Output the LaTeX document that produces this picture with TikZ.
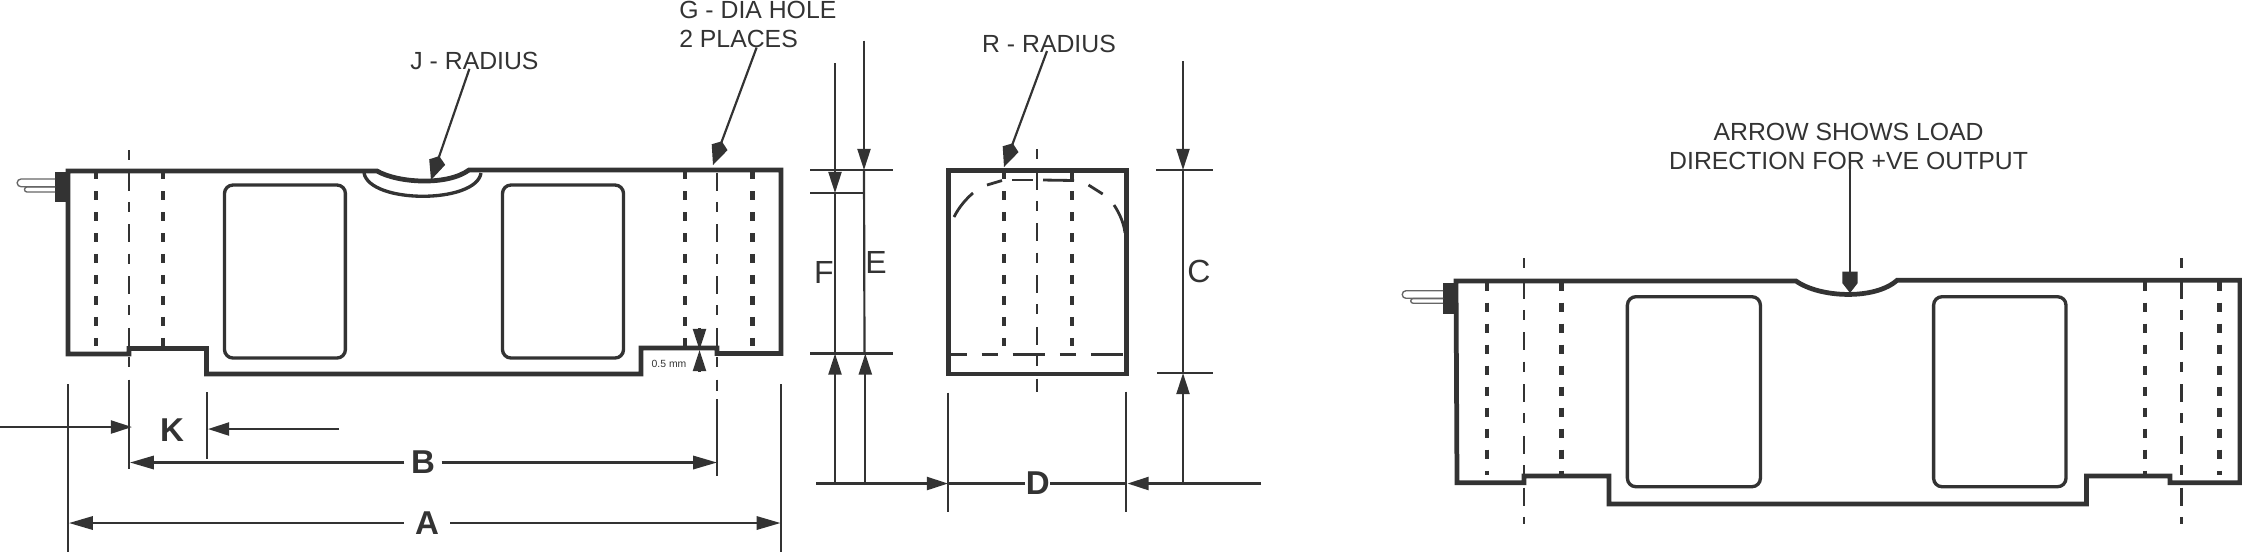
\documentclass[tikz,border=0pt]{standalone}
\usepackage{fontspec}
\setmainfont{Liberation Sans}
\usetikzlibrary{arrows.meta}
\definecolor{ink}{HTML}{333333}
\tikzset{
  body/.style={ink,line width=1.35pt},
  window/.style={ink,line width=0.95pt,rounded corners=2.4pt},
  hidden/.style={ink,line width=1.2pt,dash pattern=on 2.56pt off 3.41pt},
  centre/.style={ink,line width=0.62pt,dash pattern=on 2.85pt off 3.55pt on 5.12pt off 3.2pt},
  thinline/.style={ink,line width=0.62pt},
  wire/.style={ink!75,line width=0.38pt},
  dimarrow/.style={thinline,-{Triangle[length=6pt,width=3.7pt]}},
  bigarrow/.style={thinline,-{Triangle[length=6.8pt,width=3.8pt]}},
  leader/.style={thinline,-{Kite[length=7.2pt,width=4.8pt,inset=1.8pt]}},
  note/.style={ink,inner sep=0pt,font=\fontsize{7.05pt}{8.25pt}\selectfont},
  dimtext/.style={ink,inner sep=0pt,font=\fontsize{9.1pt}{10pt}\selectfont},
  boldtext/.style={ink,inner ysep=0pt,font=\fontsize{9.4pt}{10pt}\selectfont\bfseries}
}
\begin{document}
\begin{tikzpicture}[x=0.01cm,y=-0.01cm]
\useasboundingbox (0,0) rectangle (2242,553);
% front view
\draw[body] (68,171) -- (377,171) .. controls (398,183) and (447,186) .. (469,170)
  -- (781,170) -- (781,353.5) -- (717,353.5) -- (717,348) -- (641,348) -- (641,374)
  -- (206.6,374) -- (206.6,348.5) -- (129,348.5) -- (129,354) -- (68,354) -- cycle;
\draw[ink,line width=0.95pt] (364,173) .. controls (370,204) and (476,204) .. (481,173);
\draw[window] (224.5,185) rectangle (345.4,358);
\draw[window] (502.5,185) rectangle (623.5,358);
% connector and wires
\fill[ink] (55,172) rectangle (68,202);
\draw[wire] (55,179) -- (21,179) arc (270:90:3.85) -- (55,186.7);
\draw[wire] (55,187) -- (27,187) arc (270:90:2.5) -- (55,192);
% holes
\draw[hidden] (96,170) -- (96,346);
\draw[hidden] (163,170) -- (163,346);
\draw[hidden] (685,170) -- (685,346);
\draw[hidden] (752.5,170) -- (752.5,346);
\draw[centre] (129,150) -- (129,391);
\draw[centre] (717,150) -- (717,391);
% witness lines
\draw[thinline] (68.4,384) -- (68.4,552);
\draw[thinline] (781,384) -- (781,552);
\draw[thinline] (129,391) -- (129,469);
\draw[thinline] (207,392) -- (207,458.5);
\draw[thinline] (717,399) -- (717,476);
% K, B and A
\node[boldtext] (klabel) at (172,430) {K};
\draw[dimarrow] (0,427) -- (132,427);
\draw[dimarrow] (339,429) -- (208,429);
\node[boldtext,inner xsep=1.7pt] (blabel) at (423,462.5) {B};
\coordinate (bleft) at (130,462.5);
\coordinate (bright) at (717,462.5);
\draw[bigarrow] (blabel) -- (bleft);
\draw[bigarrow] (blabel) -- (bright);
\node[boldtext,inner xsep=3pt] (alabel) at (427,523) {A};
\coordinate (aleft) at (69,523);
\coordinate (aright) at (780.5,523);
\draw[bigarrow] (alabel) -- (aleft);
\draw[bigarrow] (alabel) -- (aright);
% 0.5 mm step
\draw[dimarrow] (699.5,328) -- (699.5,350);
\draw[dimarrow] (699.5,372) -- (699.5,350);
\node[ink,inner sep=0pt,font=\fontsize{2.96pt}{3.5pt}\selectfont] (steplabel) at (669,364) {0.5 mm};
% notes
\node[note,anchor=base] (jlabel) at (474.5,69.5) {J - RADIUS};
\coordinate (jtail) at (469.4,68.8);
\coordinate (jtip) at (431,180);
\draw[leader] (jtail) -- (jtip);
\node[note,anchor=north west,align=left] (glabel) at (678.6,0.5) {G - DIA HOLE\\2 PLACES};
\coordinate (gtail) at (756.6,47.6);
\coordinate (gtip) at (713,165);
\draw[leader] (gtail) -- (gtip);
\node[note,anchor=base] (rlabel) at (1049,52) {R - RADIUS};
\coordinate (rtail) at (1047,51);
\coordinate (rtip) at (1004,167);
\draw[leader] (rtail) -- (rtip);
% side view
\draw[body] (948.7,170.4) rectangle (1126.7,374);
\draw[hidden] (1004,170) -- (1004,346);
\draw[hidden] (1071.7,170) -- (1071.7,346);
\draw[centre] (1037,149) -- (1037,391.5);
\draw[ink,line width=0.8pt,dash pattern=on 4.55pt off 4.27pt on 4.55pt off 4.27pt on 9.1pt off 4.27pt on 4.55pt off 4.27pt on 9.1pt off 4.27pt]
  (950.7,354.5) -- (1123,354.5);
\draw[ink,line width=0.8pt] (954,217) .. controls (959,207) and (966,199) .. (973,193);
\draw[ink,line width=0.8pt] (987,185) -- (1002,180.5);
\draw[ink,line width=0.8pt] (1012,180) -- (1033,180);
\draw[ink,line width=0.8pt] (1043,180) -- (1074,180.5);
\draw[ink,line width=0.8pt] (1088.5,185) -- (1102.7,194);
\draw[ink,line width=0.8pt] (1114,205) .. controls (1120,214) and (1124,224) .. (1125,233);
% F and E
\draw[thinline] (810,170) -- (893,170);
\draw[thinline] (810,193) -- (863,193);
\draw[thinline] (810,353.5) -- (893,353.5);
\draw[dimarrow] (835,63) -- (835,193);
\draw[thinline] (835,193) -- (835,353.5);
\draw[dimarrow] (835,483) -- (835,353.5);
\draw[dimarrow] (864,40.5) -- (864,170);
\draw[thinline] (864,170) -- (864.5,353.5);
\draw[dimarrow] (865.3,485) -- (865.3,353.5);
\node[dimtext] (flabel) at (824,272) {F};
\node[dimtext] (elabel) at (876,262) {E};
% C
\draw[thinline] (1156,170) -- (1212.7,170);
\draw[thinline] (1157,373) -- (1212.7,373);
\draw[dimarrow] (1183,61) -- (1183,170);
\draw[thinline] (1183,170) -- (1183,373);
\draw[dimarrow] (1183,483) -- (1183,373);
\node[dimtext] (clabel) at (1199,271.6) {C};
% D
\draw[thinline] (948.3,392.5) -- (948.3,512);
\draw[thinline] (1126.3,391.5) -- (1126.3,512);
\draw[dimarrow] (816,483.5) -- (948,483.5);
\draw[dimarrow] (1261,483.5) -- (1127.5,483.5);
\node[boldtext,inner xsep=0pt] (dlabel) at (1037.7,483.5) {D};
\coordinate (dleft) at (948.7,483.5);
\coordinate (dright) at (1126.7,483.5);
\draw[thinline] (dlabel) -- (dleft);
\draw[thinline] (dlabel) -- (dright);
% load view
\draw[body] (1456,281) -- (1796,281) .. controls (1820,298) and (1875,300) .. (1897,280.3)
  -- (2240,280.3) -- (2240,482.7) -- (2170,482.7) -- (2170,476) -- (2086.4,476) -- (2086.4,504)
  -- (1609,504) -- (1609,476) -- (1524,476) -- (1524,482.7) -- (1457,482.7) -- cycle;
\draw[window] (1627.4,296.7) rectangle (1760.4,486.7);
\draw[window] (1933.6,296.7) rectangle (2066,486.7);
\fill[ink] (1443,283) rectangle (1457,314);
\draw[wire] (1443,290.7) -- (1406,290.7) arc (270:90:3.8) -- (1443,298.3);
\draw[wire] (1443,298.6) -- (1413,298.6) arc (270:90:2.3) -- (1443,303.2);
\draw[hidden] (1487,281.7) -- (1487,475);
\draw[hidden] (1561.4,281.7) -- (1561.4,475);
\draw[hidden] (2145,281.7) -- (2145,475);
\draw[hidden] (2219.5,281.7) -- (2219.5,475);
\draw[centre] (1524,258) -- (1524,524);
\draw[centre] (2181.5,258) -- (2181.5,524);
% load arrow
\node[note,anchor=north,align=center] (loadlabel) at (1848.6,122) {ARROW SHOWS LOAD\\DIRECTION FOR +VE OUTPUT};
\coordinate (loadtail) at (1850,166.7);
\coordinate (loadback) at (1850,272);
\draw[thinline] (loadtail) -- (loadback);
\fill[ink] (1842.3,271.7) -- (1857.7,271.7) -- (1857.7,283) -- (1850,293) -- (1842.3,283) -- cycle;
\end{tikzpicture}
\end{document}
